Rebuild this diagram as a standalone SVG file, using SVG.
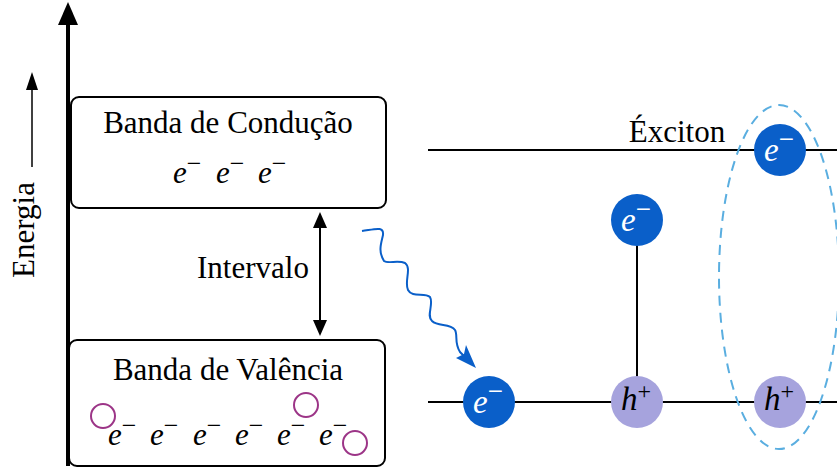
<svg xmlns="http://www.w3.org/2000/svg" width="837" height="468" viewBox="0 0 837 468">
  <style>
    .box { fill: #fff; stroke: #000; stroke-width: 2; }
    .ln { stroke: #000; stroke-width: 2; fill: none; }
    .el { fill: #0a5fc9; }
    .ho { fill: #a6a3dd; }
    .hole { fill: none; stroke: #9c3587; stroke-width: 2; }
  </style>

  <!-- energy axis -->
  <g id="axis">
    <line x1="68" y1="466" x2="68" y2="24" stroke="#000" stroke-width="4"/>
    <path d="M58,25 L68,2 L78,25 z" fill="#000"/>
    <line x1="32" y1="167" x2="32" y2="88" stroke="#000" stroke-width="1.5"/>
    <path d="M26,90 L32,72 L38,90 z" fill="#000"/>
    <text font-family="Liberation Serif, serif" font-size="31" transform="translate(34,230) rotate(-90)" text-anchor="middle">Energia</text>
  </g>

  <!-- connectors -->
  <g id="connectors">
    <line class="ln" x1="428" y1="150" x2="837" y2="150"/>
    <line class="ln" x1="428" y1="402" x2="837" y2="402"/>
    <line class="ln" x1="637" y1="220" x2="637" y2="402"/>
    <line x1="320" y1="223" x2="320" y2="325" stroke="#000" stroke-width="2"/>
    <path d="M313,228 L320,212 L327,228 z" fill="#000"/>
    <path d="M313,320 L320,336 L327,320 z" fill="#000"/>
    <path d="M362,231 C376,229 384,226 383,235 C381,244 378,251 384,261 C388,264 398,260 405,263 C412,268 404,282 408,290 C412,298 425,292 430,297 C434,304 426,316 432,321 C438,327 450,323 455,330 C458,335 454,343 460,352 L472,364" fill="none" stroke="#0a5fc9" stroke-width="2"/>
    <path d="M476,368 L456,358 L464,354 L466,345 z" fill="#0a5fc9"/>
  </g>

  <!-- conduction band -->
  <g id="conduction" font-family="Liberation Serif, serif" font-size="31">
    <rect class="box" x="71" y="97" width="315" height="111" rx="8"/>
    <text x="228" y="133" text-anchor="middle">Banda de Condução</text>
    <g font-style="italic">
      <text x="173" y="183">e<tspan font-style="normal" font-size="26" dy="-11">−</tspan></text>
      <text x="216" y="183">e<tspan font-style="normal" font-size="26" dy="-11">−</tspan></text>
      <text x="258" y="183">e<tspan font-style="normal" font-size="26" dy="-11">−</tspan></text>
    </g>
  </g>

  <!-- gap label -->
  <g id="gap">
    <text font-family="Liberation Serif, serif" font-size="31" x="253" y="278" text-anchor="middle">Intervalo</text>
  </g>

  <!-- valence band -->
  <g id="valence" font-family="Liberation Serif, serif" font-size="31">
    <rect class="box" x="69" y="340" width="316" height="126" rx="8"/>
    <text x="228" y="380" text-anchor="middle">Banda de Valência</text>
    <g font-style="italic">
      <text x="108" y="445">e<tspan font-style="normal" font-size="26" dy="-11">−</tspan></text>
      <text x="150" y="445">e<tspan font-style="normal" font-size="26" dy="-11">−</tspan></text>
      <text x="193" y="445">e<tspan font-style="normal" font-size="26" dy="-11">−</tspan></text>
      <text x="235" y="445">e<tspan font-style="normal" font-size="26" dy="-11">−</tspan></text>
      <text x="277" y="445">e<tspan font-style="normal" font-size="26" dy="-11">−</tspan></text>
      <text x="319" y="445">e<tspan font-style="normal" font-size="26" dy="-11">−</tspan></text>
    </g>
    <circle class="hole" cx="103" cy="416" r="12"/>
    <circle class="hole" cx="306" cy="405" r="12"/>
    <circle class="hole" cx="355" cy="443" r="12"/>
  </g>

  <!-- particles -->
  <g font-family="Liberation Serif, serif" font-style="italic" font-size="33">
    <g id="electron-low">
      <circle class="el" cx="489" cy="402" r="26"/>
      <text x="473" y="413" fill="#fff">e<tspan font-style="normal" font-size="27" dy="-13">−</tspan></text>
    </g>
    <g id="electron-excited">
      <circle class="el" cx="637" cy="220" r="26"/>
      <text x="621" y="231" fill="#fff">e<tspan font-style="normal" font-size="27" dy="-13">−</tspan></text>
    </g>
    <g id="hole-excited">
      <circle class="ho" cx="637" cy="402" r="26"/>
      <text x="621" y="410" fill="#000">h<tspan font-style="normal" font-size="24" dy="-11">+</tspan></text>
    </g>
    <g id="exciton-electron">
      <circle class="el" cx="780" cy="150" r="26"/>
      <text x="764" y="161" fill="#fff">e<tspan font-style="normal" font-size="27" dy="-13">−</tspan></text>
    </g>
    <g id="exciton-hole">
      <circle class="ho" cx="780" cy="402" r="26"/>
      <text x="764" y="410" fill="#000">h<tspan font-style="normal" font-size="24" dy="-11">+</tspan></text>
    </g>
  </g>

  <!-- exciton -->
  <g id="exciton">
    <text font-family="Liberation Serif, serif" font-size="31" x="677" y="142" text-anchor="middle">Éxciton</text>
    <ellipse cx="779" cy="277" rx="60" ry="172" fill="none" stroke="#5aaee0" stroke-width="2" stroke-dasharray="10,7"/>
  </g>
</svg>
